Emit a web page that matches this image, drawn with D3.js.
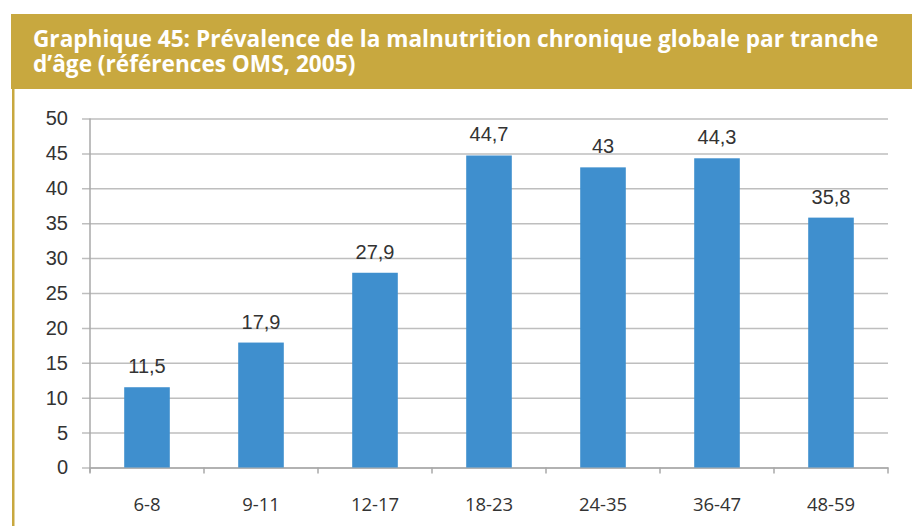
<!DOCTYPE html>
<html>
<head>
<meta charset="utf-8">
<script src="https://cdn.jsdelivr.net/npm/d3@7"></script>
<style>
  html, body { margin: 0; padding: 0; background: #ffffff; }
  svg { display: block; }
</style>
</head>
<body>
<svg id="chart" width="912" height="526"></svg>
<script>
// Tranches d'âge (mois) et prévalence (%)
const categories = ["6-8", "9-11", "12-17", "18-23", "24-35", "36-47", "48-59"];
const values = [11.5, 17.9, 27.9, 44.7, 43, 44.3, 35.8];
const yTicks = [0, 5, 10, 15, 20, 25, 30, 35, 40, 45, 50];
const titleLines = [
  "Graphique 45: Prévalence de la malnutrition chronique globale par tranche",
  "d’âge (références OMS, 2005)"
];

const W = 912, H = 526;
const gold = "#C8A83F";
const barColor = "#3F8FCE";
const gridColor = "#BEBEBE";
const axisColor = "#A8A8A8";

const svg = d3.select("#chart");

// En-tête doré
svg.append("rect")
  .attr("x", 11).attr("y", 14)
  .attr("width", W - 11).attr("height", 75)
  .attr("fill", gold);

// Filet vertical à gauche
svg.append("rect")
  .attr("x", 12).attr("y", 89)
  .attr("width", 2.5).attr("height", H - 89)
  .attr("fill", gold);

// Titre
const title = svg.append("text")
  .attr("font-family", "'Open Sans', sans-serif")
  .attr("font-weight", 700)
  .attr("fill", "#ffffff")
  .attr("font-size", 20);
titleLines.forEach((t, i) => {
  title.append("tspan")
    .attr("x", 33)
    .attr("y", 47 + i * 25)
    .text(t);
});
// Ajuste la taille pour que la première ligne occupe la largeur voulue
const firstLen = title.select("tspan").node().getComputedTextLength();
title.attr("font-size", 20 * 846 / firstLen);

// Zone de tracé
const margin = { left: 90, right: W - 888, top: 118.5, bottom: H - 467.5 };

const x = d3.scaleBand()
  .domain(categories)
  .range([margin.left, W - margin.right])
  .paddingInner(0.6)
  .paddingOuter(0.3);

const y = d3.scaleLinear()
  .domain([0, 50])
  .range([H - margin.bottom, margin.top]);

// Axe Y avec quadrillage
const yAxis = svg.append("g")
  .attr("transform", `translate(${margin.left},0)`)
  .call(d3.axisLeft(y)
    .tickValues(yTicks)
    .tickSize(-(W - margin.left - margin.right))
    .tickPadding(22)
    .tickFormat(d3.format("d")));
yAxis.select(".domain").remove();
yAxis.selectAll(".tick line")
  .attr("x1", -8)
  .attr("stroke", gridColor)
  .attr("stroke-width", 1.5);
yAxis.selectAll(".tick text")
  .attr("font-family", "Arial, 'Liberation Sans', sans-serif")
  .attr("font-size", 20)
  .attr("fill", "#333333");

// Ligne verticale de l'axe Y
svg.append("line")
  .attr("x1", margin.left).attr("x2", margin.left)
  .attr("y1", y(50)).attr("y2", y(0) + 5)
  .attr("stroke", axisColor)
  .attr("stroke-width", 1.5);

// Axe X
const step = x.step();
const xAxis = svg.append("g")
  .attr("transform", `translate(0,${y(0)})`)
  .call(d3.axisBottom(x).tickSize(0).tickPadding(30));
xAxis.select(".domain")
  .attr("stroke", axisColor)
  .attr("stroke-width", 1.5);
xAxis.selectAll(".tick text")
  .attr("font-family", "'Open Sans', sans-serif")
  .attr("font-size", 18.5)
  .attr("fill", "#333333");

// Graduations entre les catégories
svg.append("g")
  .selectAll("line")
  .data(d3.range(categories.length + 1))
  .join("line")
  .attr("x1", i => margin.left + i * step)
  .attr("x2", i => margin.left + i * step)
  .attr("y1", y(0))
  .attr("y2", y(0) + 6)
  .attr("stroke", axisColor)
  .attr("stroke-width", 1.5);

// Barres
svg.append("g")
  .selectAll("rect")
  .data(values)
  .join("rect")
  .attr("x", (d, i) => x(categories[i]))
  .attr("y", d => y(d))
  .attr("width", x.bandwidth())
  .attr("height", d => y(0) - y(d))
  .attr("fill", barColor);

// Étiquettes de valeur
const fmt = v => String(v).replace(".", ",");
svg.append("g")
  .selectAll("text")
  .data(values)
  .join("text")
  .attr("x", (d, i) => x(categories[i]) + x.bandwidth() / 2)
  .attr("y", d => y(d) - 14)
  .attr("text-anchor", "middle")
  .attr("font-family", "Arial, 'Liberation Sans', sans-serif")
  .attr("font-size", 20)
  .attr("fill", "#333333")
  .text(fmt);
</script>
</body>
</html>
